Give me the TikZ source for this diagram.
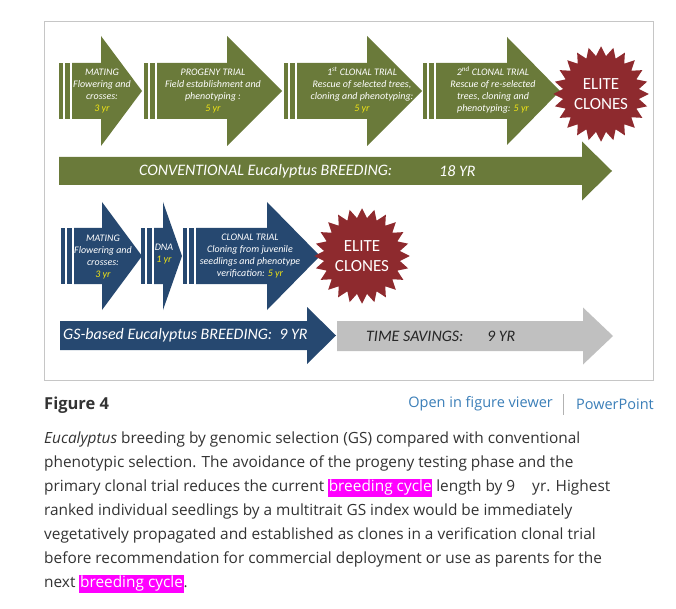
\documentclass[tikz,border=0pt]{standalone}
\usepackage{fontspec}
\setmainfont{Open Sans}
\newfontfamily\calibri{Carlito}
\usepackage{xcolor}
\usetikzlibrary{shapes.geometric, positioning}
\definecolor{olivegr}{RGB}{106,122,58}
\definecolor{navyb}{RGB}{38,72,112}
\definecolor{elitered}{RGB}{142,42,46}
\definecolor{savegray}{RGB}{192,192,192}
\definecolor{yryellow}{RGB}{240,228,20}
\definecolor{linkb}{RGB}{58,126,184}
\definecolor{hlmag}{RGB}{255,0,255}
\definecolor{captxt}{RGB}{51,51,51}

\newcommand{\yrs}[1]{\textcolor{yryellow}{#1}}
\newcommand{\hlcyc}[1]{{\setlength{\fboxsep}{0.6pt}\colorbox{hlmag}{\textcolor{white}{\rule[-0.3em]{0pt}{1.08em}#1}}}}

% striped block arrow: colour, x0, head base, tip, centre y, body half, head half
\newcommand{\blockarrow}[7]{%
  \fill[#1] ({#2},{#5-#6}) rectangle ({#2+4},{#5+#6});
  \fill[#1] ({#2+6},{#5-#6}) rectangle ({#2+11},{#5+#6});
  \fill[#1] ({#2+13},{#5-#6}) -- ({#3},{#5-#6}) -- ({#3},{#5-#7}) -- ({#4},{#5})
     -- ({#3},{#5+#7}) -- ({#3},{#5+#6}) -- ({#2+13},{#5+#6}) -- cycle;}
% plain block arrow, same arguments
\newcommand{\plainarrow}[7]{%
  \fill[#1] ({#2},{#5-#6}) -- ({#3},{#5-#6}) -- ({#3},{#5-#7}) -- ({#4},{#5})
     -- ({#3},{#5+#7}) -- ({#3},{#5+#6}) -- ({#2},{#5+#6}) -- cycle;}

\begin{document}
\begin{tikzpicture}[x=1pt, y=-1pt,
  stage/.style={font=\calibri\itshape\fontsize{10}{12}\selectfont, text=white,
                align=center, inner sep=0pt},
  barlbl/.style={font=\calibri\itshape\fontsize{16}{19}\selectfont, text=white,
                 anchor=west, inner sep=0pt},
  elite/.style={star, star points=24, star point ratio=1.25, fill=elitered,
                minimum size=84pt, inner sep=0pt, text=white, align=center,
                font=\calibri\fontsize{17}{20}\selectfont},
  link/.style={font=\fontsize{14.5}{17}\selectfont, text=linkb, inner sep=0pt},
]
\useasboundingbox[fill=white] (0,0) rectangle (676,609);
\draw[gray!45, line width=1pt] (44,22) rectangle (653,380);

% conventional row
\blockarrow{olivegr}{59}{101}{142}{91}{28}{55}
\blockarrow{olivegr}{144}{227}{282}{91}{28}{55}
\blockarrow{olivegr}{284}{367}{422}{91}{28}{55}
\blockarrow{olivegr}{423}{507}{560}{91}{28}{54}
\plainarrow{olivegr}{59}{582}{612}{171}{14}{29.5}
\node[elite] (clones1) at (601,94) {ELITE\\CLONES};

\node[stage] (mating1) at (102,91) {MATING\\Flowering and\\crosses:\\\yrs{3 yr}};
\node[stage] (progeny) at (213,91) {PROGENY TRIAL\\Field establishment and\\phenotyping :\\\yrs{5 yr}};
\node[stage] (clonal1) at (362,90) {1\textsuperscript{st} CLONAL TRIAL\\Rescue of selected trees,\\cloning and phenotyping:\\\yrs{5 yr}};
\node[stage] (clonal2) at (493,90) {2\textsuperscript{nd} CLONAL TRIAL\\Rescue of re-selected\\trees, cloning and\\phenotyping: \yrs{5 yr}};
\node[barlbl] (conv) at (139,171) {CONVENTIONAL Eucalyptus BREEDING:};
\node[barlbl] (convyr) at (439,171) {18 YR};

% GS row
\blockarrow{navyb}{61}{102}{142}{256}{28}{54}
\blockarrow{navyb}{141}{163}{182}{256}{28}{54}
\blockarrow{navyb}{183}{267}{320}{256}{28}{54}
\plainarrow{navyb}{60}{307}{336}{335.5}{14.5}{28.5}
\plainarrow{savegray}{337}{583}{613}{336}{15}{28.5}
\node[elite] (clones2) at (362,256) {ELITE\\CLONES};

\node[stage] (mating2) at (103,257) {MATING\\Flowering and\\crosses:\\\yrs{3 yr}};
\node[stage] (dna) at (164,254) {DNA\\\yrs{1 yr}};
\node[stage] (clonalgs) at (250,256) {CLONAL TRIAL\\Cloning from juvenile\\seedlings and phenotype\\verification: \yrs{5 yr}};
\node[barlbl] (gs) at (63,335) {GS-based Eucalyptus BREEDING:\ \ 9 YR};
\node[barlbl, text=black!85] (saving) at (366,336) {TIME SAVINGS:};
\node[barlbl, text=black!85] (savingyr) at (487,336) {9 YR};

% caption
\node[font=\bfseries\fontsize{16.5}{19}\selectfont, text=captxt, anchor=west,
      inner sep=0pt] (fig) at (44,405) {Figure 4};
\node[link, anchor=east] (viewer) at (553,404) {Open in figure viewer};
\node[link, anchor=east] (ppt) at (654,404) {PowerPoint};
\draw[gray!60] (563,394) -- (563,415);
\node[anchor=north west, align=left, inner sep=0pt, text=captxt,
      font=\fontsize{15.4}{24}\selectfont] (caption) at (44,432)
  {\textit{Eucalyptus} breeding by genomic selection (GS) compared with conventional\\
   phenotypic selection. The avoidance of the progeny testing phase and the\\
   primary clonal trial reduces the current \hlcyc{breeding cycle} length by 9\hspace{1.1em}yr. Highest\\
   ranked individual seedlings by a multitrait GS index would be immediately\\
   vegetatively propagated and established as clones in a verification clonal trial\\
   before recommendation for commercial deployment or use as parents for the\\
   next \hlcyc{breeding cycle}.};
\end{tikzpicture}
\end{document}
